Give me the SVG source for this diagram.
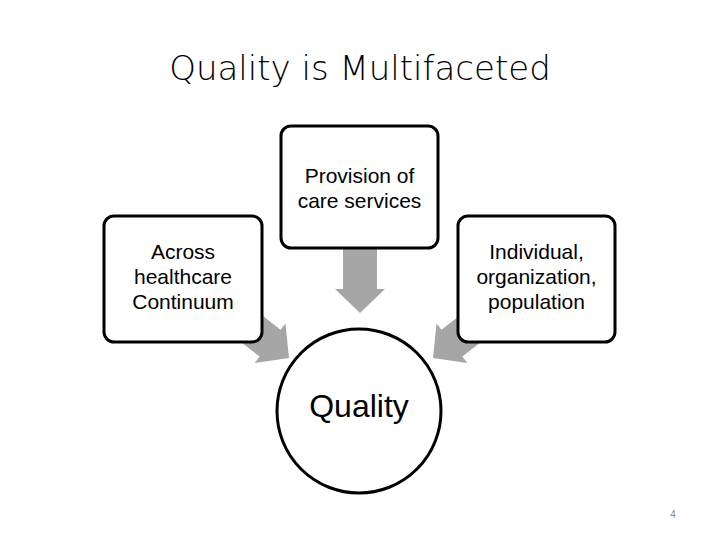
<svg xmlns="http://www.w3.org/2000/svg" width="720" height="540" viewBox="0 0 720 540">
<style>
.box{fill:#fff;stroke:#000;stroke-width:3}
.t{font-family:"Liberation Sans",Arial,sans-serif;font-size:21px;text-anchor:middle;fill:#000}
.arr{fill:#a6a6a6}
</style>
<defs>
<polygon id="a" points="-70,-17 -24,-17 -24,-25 0,0 -24,25 -24,17 -70,17"/>
</defs>
<rect width="720" height="540" fill="#fff"/>
<text x="360" y="80" font-family="DejaVu Sans,sans-serif" font-weight="300" font-size="34" text-anchor="middle" fill="#000">Quality is Multifaceted</text>
<g id="connectors">
<use href="#a" class="arr" transform="translate(360,313) rotate(90)"/>
<use href="#a" class="arr" transform="translate(289,358) rotate(38)"/>
<use href="#a" class="arr" transform="translate(433,358) rotate(142)"/>
</g>
<g id="n_top"><rect class="box" x="281" y="126" width="157" height="122" rx="10"/>
<text class="t" x="359.5" y="183">Provision of</text><text class="t" x="359.5" y="208">care services</text></g>
<g id="n_left"><rect class="box" x="104" y="216" width="158" height="126" rx="10"/>
<text class="t" x="183" y="259">Across</text><text class="t" x="183" y="284">healthcare</text><text class="t" x="183" y="309">Continuum</text></g>
<g id="n_right"><rect class="box" x="458" y="216" width="157" height="126" rx="10"/>
<text class="t" x="536.5" y="259">Individual,</text><text class="t" x="536.5" y="284">organization,</text><text class="t" x="536.5" y="309">population</text></g>
<g id="n_quality"><circle class="box" cx="359" cy="411" r="82"/>
<text class="t" x="359" y="417" style="font-size:32px">Quality</text></g>
<text x="673" y="518" font-family="Liberation Sans,sans-serif" font-size="10" fill="#888" text-anchor="middle">4</text>
</svg>
